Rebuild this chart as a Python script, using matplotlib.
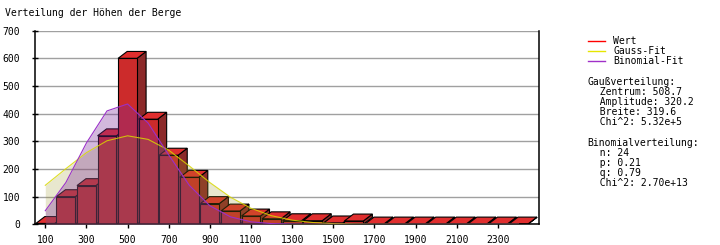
import matplotlib.pyplot as plt
from matplotlib.patches import Polygon, Rectangle
from matplotlib.lines import Line2D

# Hoehenklassen (Mitte der Klasse) und Anzahl Berge
hoehen = [100, 200, 300, 400, 500, 600, 700, 800, 900, 1000, 1100, 1200,
          1300, 1400, 1500, 1600, 1700, 1800, 1900, 2000, 2100, 2200, 2300, 2400]
werte = [3, 100, 140, 320, 600, 380, 250, 170, 75, 48, 30, 20,
         13, 13, 5, 12, 1, 1, 1, 1, 1, 1, 1, 1]
gauss_fit = [141, 201, 259, 302, 320, 307, 268, 211, 151, 98, 58, 31,
             15, 6.5, 2.6, 0.9, 0.3, 0.1, 0, 0, 0, 0, 0, 0]
binom_fit = [49, 151, 294, 410, 435, 366, 251, 141, 67, 27, 9, 2.6,
             0.6, 0.1, 0, 0, 0, 0, 0, 0, 0, 0, 0, 0]
xticks = [100, 300, 500, 700, 900, 1100, 1300, 1500, 1700, 1900, 2100, 2300]
yticks = [0, 100, 200, 300, 400, 500, 600, 700]

legende = ["Wert", "Gauss-Fit", "Binomial-Fit"]
gauss_text = ["Gaußverteilung:", "  Zentrum: 508.7", "  Amplitude: 320.2",
              "  Breite: 319.6", "  Chi^2: 5.32e+5"]
binom_text = ["Binomialverteilung:", "  n: 24", "  p: 0.21", "  q: 0.79",
              "  Chi^2: 2.70e+13"]

plt.rcParams['font.family'] = 'DejaVu Sans Mono'
plt.rcParams['font.size'] = 7

W, H = 720, 245
fig = plt.figure(figsize=(7.2, 2.45), dpi=100)
ax = fig.add_axes([35 / W, 1 - 224.3 / H, 504 / W, 193.6 / H])

# 3D-Balken: Vorderseite, Deckel, rechte Seite
bw = 92     # Balkenbreite in Datenwerten
dx = 44     # Tiefe nach rechts
dy = 25     # Tiefe nach oben
for x, h in zip(hoehen, werte):
    l, r = x - bw / 2, x + bw / 2
    side = Polygon([(r, 0), (r + dx, dy), (r + dx, h + dy), (r, h)], closed=True,
                   facecolor='#8c2a2a', edgecolor='black', lw=0.8, zorder=2)
    top = Polygon([(l, h), (r, h), (r + dx, h + dy), (l + dx, h + dy)], closed=True,
                  facecolor='#e02e2e', edgecolor='black', lw=0.8, zorder=2)
    front = Rectangle((l, 0), bw, h, facecolor='#cc2b2b', edgecolor='black',
                      lw=0.8, zorder=2)
    ax.add_patch(side)
    ax.add_patch(top)
    ax.add_patch(front)

# Fits als halbtransparente Flaechen ueber den Balken
ax.fill_between(hoehen, gauss_fit, 0, color='#9a9220', alpha=0.22, lw=0, zorder=3)
ax.fill_between(hoehen, binom_fit, 0, color='#7a2a9a', alpha=0.33, lw=0, zorder=3)
ax.plot(hoehen, gauss_fit, color='#d8d800', lw=0.8, alpha=0.85, zorder=4)
ax.plot(hoehen, binom_fit, color='#9a30c8', lw=0.8, zorder=4)

ax.set_xlim(50, 2500)
ax.set_ylim(0, 700)
ax.set_xticks(xticks)
ax.set_xticklabels([str(t) for t in xticks])
ax.set_yticks(yticks)
ax.set_yticklabels([str(t) for t in yticks])
ax.yaxis.grid(True, color='#a0a0a0', lw=1.0, zorder=0)
ax.set_axisbelow(True)
ax.spines['top'].set_visible(False)
for s in ['left', 'right', 'bottom']:
    ax.spines[s].set_linewidth(1.1)
ax.tick_params(axis='y', direction='inout', length=5, width=1, pad=8)
ax.tick_params(axis='x', direction='out', length=3, width=1, pad=5)

fig.text(5 / W, 1 - 12.5 / H, "Verteilung der Höhen der Berge", va='center', ha='left')

# Legende rechts
farben = ['#ff0000', '#e6e600', '#a030c8']
for i, (lab, c) in enumerate(zip(legende, farben)):
    y = 1 - (40.7 + i * 10) / H
    fig.add_artist(Line2D([588 / W, 605 / W], [y, y], transform=fig.transFigure,
                          color=c, lw=1))
    fig.text(613 / W, y, lab, va='center', ha='left')

for i, t in enumerate(gauss_text):
    fig.text(587.5 / W, 1 - (82 + i * 10) / H, t, va='center', ha='left')
for i, t in enumerate(binom_text):
    fig.text(587.5 / W, 1 - (143 + i * 10) / H, t, va='center', ha='left')

fig.savefig("out.png", dpi=100)
